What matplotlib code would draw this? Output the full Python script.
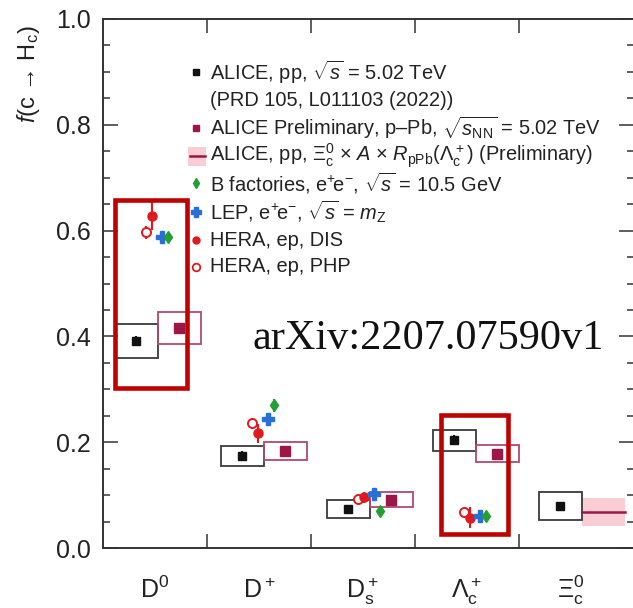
import numpy as np
import matplotlib
matplotlib.use("Agg")
import matplotlib.pyplot as plt
from matplotlib.patches import Rectangle
from matplotlib.lines import Line2D
from matplotlib.ticker import MultipleLocator, FixedLocator
import matplotlib.transforms as mtransforms

plt.rcParams['font.family'] = ['Liberation Sans', 'DejaVu Sans']
plt.rcParams['mathtext.fontset'] = 'custom'
plt.rcParams['mathtext.rm'] = 'Liberation Sans'
plt.rcParams['mathtext.it'] = 'Liberation Sans:italic'
plt.rcParams['mathtext.bf'] = 'Liberation Sans:bold'

# ---- data: charm fragmentation fractions ----
hadrons = [r'$\mathrm{D}^0$', r'$\mathrm{D}^+$', r'$\mathrm{D}_\mathrm{s}^+$',
           r'$\Lambda_\mathrm{c}^+$', r'$\Xi_\mathrm{c}^0$']

alice_pp = [0.391, 0.174, 0.074, 0.204, 0.079]
alice_pp_stat = [0.010, 0.010, 0.006, 0.010, 0.008]
alice_pp_syst = [0.032, 0.019, 0.017, 0.020, 0.026]

alice_ppb = [0.416, 0.183, 0.091, 0.178]
alice_ppb_stat = [0.008, 0.007, 0.006, 0.007]
alice_ppb_syst = [0.030, 0.017, 0.014, 0.016]

xi_scaled = 0.068
xi_scaled_err = 0.027

bfact = [0.588, 0.270, 0.070, 0.060]
bfact_err = [0.008, 0.012, 0.008, 0.005]
lep = [0.588, 0.244, 0.102, 0.060]
lep_err = [0.008, 0.008, 0.008, 0.005]
hera_dis = [0.628, 0.217, 0.096, 0.057]
hera_dis_err = [0.026, 0.018, 0.010, 0.020]
hera_php = [0.597, 0.236, 0.093, 0.068]
hera_php_err = [0.012, 0.010, 0.006, 0.008]

# ---- colours ----
c_black = '#111111'
c_maroon = '#9c1748'
c_maroon_box = '#b0496f'
c_green = '#23a033'
c_blue = '#2670d8'
c_red = '#e0191f'
c_pink = '#f9cdd3'
c_frame = '#c00000'

W, H = 633, 608
fig = plt.figure(figsize=(W / 100, H / 100), dpi=100)
ax = fig.add_axes([103 / W, (H - 548) / H, (634 - 103) / W, (548 - 19) / H])

ax.set_xlim(-0.5, 4.611)
ax.set_ylim(0.0, 1.0)

box_w = 0.414
idx = np.arange(len(hadrons))
base = -0.178 + 1.02 * idx          # centre of the pp systematic box

# ALICE pp: boxes + points
for i in range(len(hadrons)):
    ax.add_patch(Rectangle((base[i] - box_w / 2, alice_pp[i] - alice_pp_syst[i]),
                           box_w, 2 * alice_pp_syst[i], fill=False,
                           edgecolor='#3a3a3a', lw=1.3, zorder=3))
ax.errorbar(base, alice_pp, yerr=alice_pp_stat, fmt='s', ms=6, color=c_black,
            elinewidth=1.5, capsize=0, zorder=5)

# ALICE p-Pb
xp = base[:4] + box_w
for i in range(4):
    ax.add_patch(Rectangle((xp[i] - box_w / 2, alice_ppb[i] - alice_ppb_syst[i]),
                           box_w, 2 * alice_ppb_syst[i], fill=False,
                           edgecolor=c_maroon_box, lw=1.3, zorder=3))
ax.errorbar(xp, alice_ppb, yerr=alice_ppb_stat, fmt='s', ms=6.5, color=c_maroon,
            elinewidth=1.5, capsize=0, zorder=5)

# Xi_c scaled band
x0 = base[4] + box_w / 2
ax.add_patch(Rectangle((x0, xi_scaled - xi_scaled_err), box_w, 2 * xi_scaled_err,
                       facecolor=c_pink, edgecolor='none', zorder=2))
ax.plot([x0, x0 + box_w], [xi_scaled, xi_scaled], color=c_maroon, lw=1.8, zorder=3)

# e+e- and ep measurements
b4 = base[:4]
ax.errorbar(b4 + 0.096, hera_php, yerr=hera_php_err, fmt='o', ms=6.5, mfc='white',
            mec=c_red, mew=1.4, color=c_red, elinewidth=1.5, capsize=0, zorder=6)
ax.errorbar(b4 + 0.154, hera_dis, yerr=hera_dis_err, fmt='o', ms=6.5, color=c_red,
            elinewidth=1.5, capsize=0, zorder=6)
ax.errorbar(b4 + 0.25, lep, yerr=lep_err, fmt='P', ms=8, color=c_blue,
            elinewidth=1.5, capsize=0, zorder=6)
ax.errorbar(b4 + 0.308, bfact, yerr=bfact_err, fmt='d', ms=6, color=c_green,
            elinewidth=1.5, capsize=0, zorder=6)

# highlight frames
for (xa, xb, ya, yb) in [(-0.380, 0.313, 0.302, 0.658), (2.757, 3.402, 0.027, 0.252)]:
    ax.add_patch(Rectangle((xa, ya), xb - xa, yb - ya, fill=False,
                           edgecolor=c_frame, lw=3.3, zorder=8, clip_on=False))

# ---- axes styling ----
for s in ax.spines.values():
    s.set_linewidth(1.4)
    s.set_color('#333333')
ax.yaxis.set_major_locator(MultipleLocator(0.2))
ax.yaxis.set_minor_locator(MultipleLocator(0.05))
ax.xaxis.set_major_locator(FixedLocator([0.5, 1.5, 2.5, 3.5]))
ax.tick_params(axis='y', which='major', direction='in', length=10.8, width=1.1,
               left=True, right=True, labelsize=18, pad=9, colors='#333333',
               labelcolor='#222222')
ax.tick_params(axis='y', which='minor', direction='in', length=5, width=1.1,
               left=True, right=True, colors='#333333')
ax.tick_params(axis='x', which='major', direction='in', length=10, width=1.1,
               top=True, bottom=True, labelbottom=False, colors='#333333')
ax.set_yticks([0.0, 0.2, 0.4, 0.6, 0.8, 1.0])
ax.set_yticklabels(['0.0', '0.2', '0.4', '0.6', '0.8', '1.0'])

# hadron names under each column
trans = mtransforms.blended_transform_factory(ax.transData, ax.transAxes)
for i, lab in enumerate(hadrons):
    ax.text(i, -0.094, lab, transform=trans, ha='center', va='baseline',
            fontsize=18, color='#222222')

fig.text(29 / W, 1 - 74 / H, r'$f$(c → H$_\mathrm{c}$)', rotation=90,
         ha='center', va='center', fontsize=17, color='#222222')


# ---- legend drawn by hand ----
def px(x, y):
    return x / W, 1 - y / H


leg_x_mark, leg_x_text = 196, 210
rows = [
    (72, r'ALICE, pp, $\sqrt{s}$ = 5.02 TeV'),
    (100, '(PRD 105, L011103 (2022))'),
    (128, r'ALICE Preliminary, p–Pb, $\sqrt{s_\mathrm{NN}}$ = 5.02 TeV'),
    (156, r'ALICE, pp, $\Xi_\mathrm{c}^0$ × $A$ × $R_\mathrm{pPb}(\Lambda_\mathrm{c}^+)$ (Preliminary)'),
    (183, r'B factories, $\mathrm{e}^{+}\!\mathrm{e}^{-}$, $\sqrt{s}$ = 10.5 GeV'),
    (212, r'LEP, $\mathrm{e}^{+}\!\mathrm{e}^{-}$, $\sqrt{s}$ = $m_\mathrm{Z}$'),
    (240, 'HERA, ep, DIS'),
    (267, 'HERA, ep, PHP'),
]
for y, txt in rows:
    fig.text(*px(leg_x_text, y), txt, ha='left', va='center', fontsize=14.4,
             color='#222222')

mk = dict(transform=fig.transFigure, linestyle='none')
fig.add_artist(Line2D(*zip(px(leg_x_mark, 72)), marker='s', ms=4.5, color=c_black, **mk))
fig.add_artist(Line2D(*zip(px(leg_x_mark, 128)), marker='s', ms=4.5, color=c_maroon, **mk))
bx, by = px(188, 166)
fig.add_artist(Rectangle((bx, by), 18 / W, 19 / H, transform=fig.transFigure,
                         facecolor=c_pink, edgecolor='none'))
lx0, ly = px(190, 156)
lx1, _ = px(205, 156)
fig.add_artist(Line2D([lx0, lx1], [ly, ly], color=c_maroon, lw=1.8,
                      transform=fig.transFigure))
fig.add_artist(Line2D(*zip(px(leg_x_mark, 183)), marker='d', ms=5, color=c_green, **mk))
fig.add_artist(Line2D(*zip(px(leg_x_mark, 212)), marker='P', ms=6.5, color=c_blue, **mk))
fig.add_artist(Line2D(*zip(px(leg_x_mark, 240)), marker='o', ms=5, color=c_red, **mk))
fig.add_artist(Line2D(*zip(px(leg_x_mark, 267)), marker='o', ms=5.5, mfc='white',
                      mec=c_red, mew=1.3, **mk))

fig.text(*px(252, 349), 'arXiv:2207.07590v1', family='Liberation Serif',
         fontsize=30.5, ha='left', va='baseline', color='#111111')

fig.savefig('out.png', dpi=100)
